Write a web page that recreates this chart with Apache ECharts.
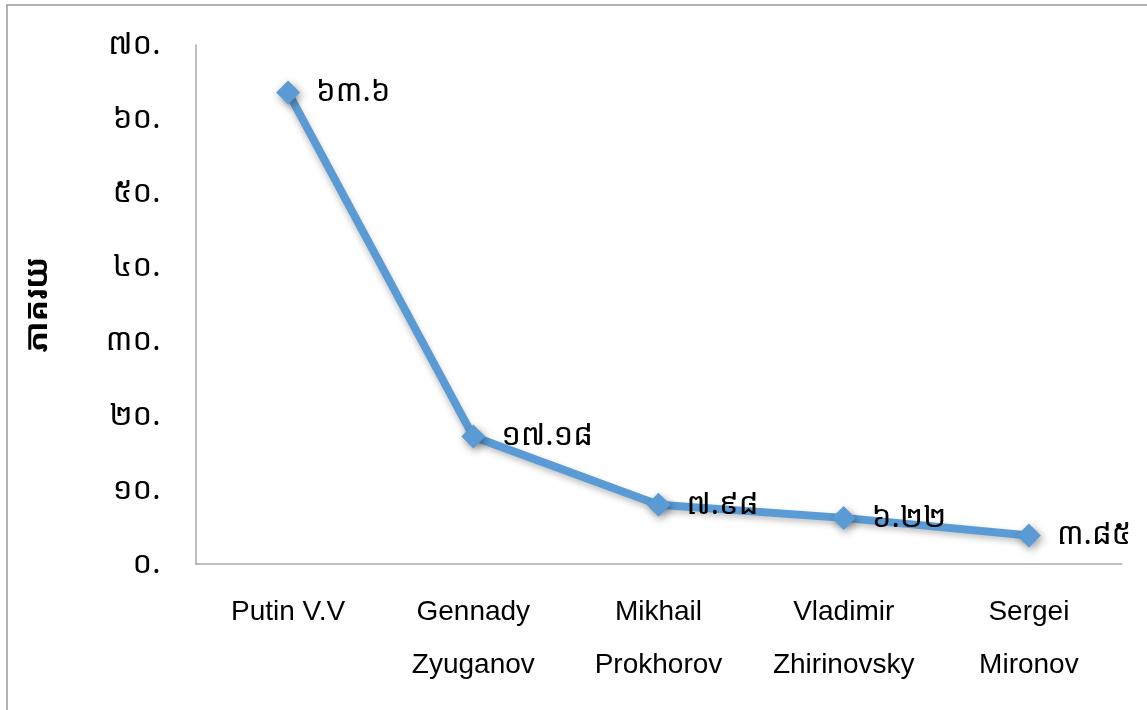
<!DOCTYPE html>
<html><head><meta charset="utf-8">
<script src="https://cdn.jsdelivr.net/npm/echarts@6/dist/echarts.min.js"></script>
<style>html,body{margin:0;padding:0;background:#fff}#c{width:1147px;height:710px}</style>
</head><body><div id="c"></div>
<script>
const categories = ['Putin V.V', 'Gennady\nZyuganov', 'Mikhail\nProkhorov', 'Vladimir\nZhirinovsky', 'Sergei\nMironov'];
const values = [63.6, 17.18, 7.98, 6.22, 3.85];
const valueLabels = ['៦៣.៦', '១៧.១៨', '៧.៩៨', '៦.២២', '៣.៨៥'];
const yTickLabels = ['០.', '១០.', '២០.', '៣០.', '៤០.', '៥០.', '៦០.', '៧០.'];
const yTitle = 'ភាគរយ';

const khmerFont = "'Noto Sans Khmer','Khmer OS','Noto Serif Khmer',sans-serif";
const chart = echarts.init(document.getElementById('c'));
chart.setOption({
  animation: false,
  graphic: [{type:'rect', shape:{x:7, y:5, width:1300, height:900}, style:{fill:'none', stroke:'#999', lineWidth:1.5}, silent:true}],
  grid: {left:195.5, right:25.5, top:45, bottom:146},
  xAxis: {
    type:'category', data:categories, boundaryGap:true,
    axisLine:{lineStyle:{color:'#aaa', width:1.5}},
    axisTick:{show:false},
    axisLabel:{color:'#000', fontSize:28, fontFamily:"'Liberation Sans',Arial,sans-serif", lineHeight:53, margin:22, verticalAlign:'top', interval:0}
  },
  yAxis: {
    type:'value', min:0, max:70, interval:10,
    name: yTitle, nameLocation:'middle', nameGap:142, nameRotate:90,
    nameTextStyle:{fontSize:32, fontWeight:'bold', color:'#000', fontFamily:khmerFont},
    axisLine:{show:true, lineStyle:{color:'#aaa', width:1.5}},
    axisTick:{show:false},
    splitLine:{show:false},
    axisLabel:{color:'#000', fontSize:31, fontFamily:khmerFont, margin:35, formatter:(v)=>yTickLabels[Math.round(v/10)]}
  },
  series: [{
    type:'line', data:values,
    lineStyle:{color:'#5B9BD5', width:8, shadowColor:'rgba(0,0,0,0.25)', shadowBlur:6, shadowOffsetY:3},
    symbol:'diamond', symbolSize:24,
    itemStyle:{color:'#5B9BD5', shadowColor:'rgba(0,0,0,0.4)', shadowBlur:8, shadowOffsetX:2, shadowOffsetY:3},
    label:{show:true, position:'right', distance:16, color:'#000', fontSize:31, fontFamily:khmerFont,
      formatter:(p)=>valueLabels[p.dataIndex]}
  }]
});
</script></body></html>
